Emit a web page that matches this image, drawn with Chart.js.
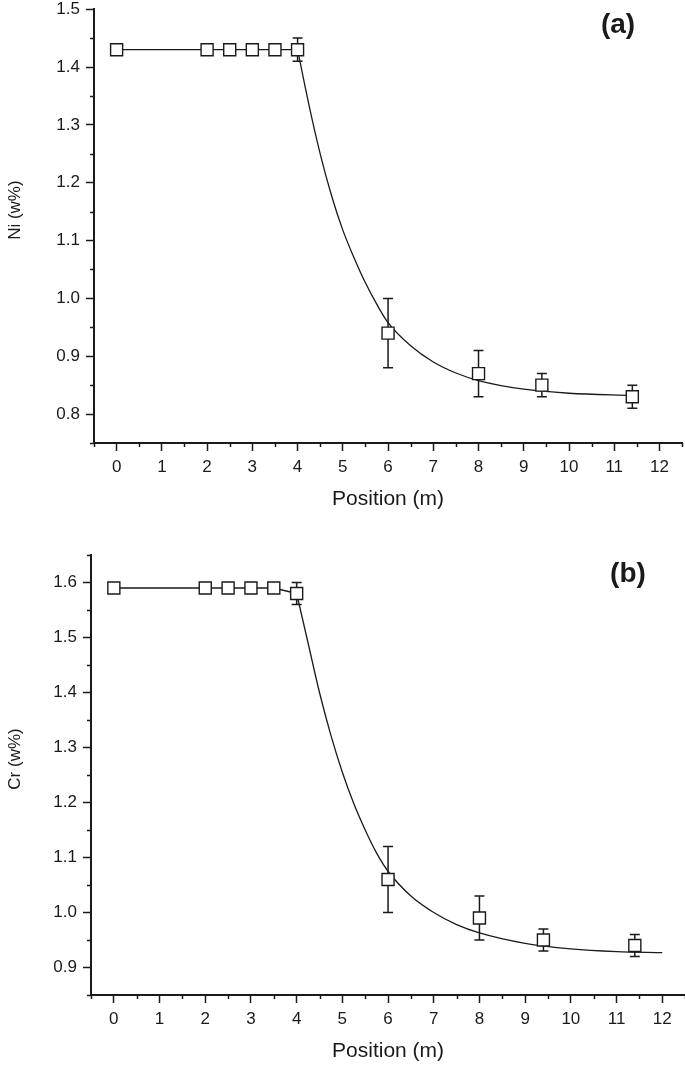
<!DOCTYPE html>
<html>
<head>
<meta charset="utf-8">
<script src="https://cdn.jsdelivr.net/npm/chart.js@4.4.1/dist/chart.umd.min.js"></script>
<style>
    html, body { margin: 0; padding: 0; background: #fff; overflow: hidden; }
    #wrap { position: relative; width: 685px; height: 1065px; overflow: hidden; }
    .panel { position: absolute; left: 0; }
    .panel canvas { display: block; }
    #pa { top: -7px; width: 692px; height: 520px; }
    #pb { top: 535px; width: 695px; height: 530px; }
</style>
</head>
<body>
<div id="wrap">
    <div class="panel" id="pa"><canvas id="chartA"></canvas></div>
    <div class="panel" id="pb"><canvas id="chartB"></canvas></div>
</div>
<script>
// --- Data ---
const positions = [0, 2, 2.5, 3, 3.5, 4, 6, 8, 9.4, 11.4];
const niValues = [1.43, 1.43, 1.43, 1.43, 1.43, 1.43, 0.94, 0.87, 0.85, 0.83];
const niErrors = [0, 0, 0, 0, 0, 0.02, 0.06, 0.04, 0.02, 0.02];
const crValues = [1.59, 1.59, 1.59, 1.59, 1.59, 1.58, 1.06, 0.99, 0.95, 0.94];
const crErrors = [0, 0, 0, 0, 0, 0.02, 0.06, 0.04, 0.02, 0.02];

// fitted decay curves
const niFitX = [4, 4.25, 4.5, 4.75, 5, 5.25, 5.5, 5.75, 6, 6.5, 7, 7.5, 8, 9, 10, 11.4];
const niFitY = [1.43, 1.335, 1.25, 1.178, 1.118, 1.07, 1.027, 0.99, 0.958, 0.918, 0.89, 0.871, 0.858, 0.843, 0.836, 0.832];
const crFitX = [4, 4.25, 4.5, 4.75, 5, 5.25, 5.5, 5.75, 6, 6.5, 7, 7.5, 8, 9, 10, 11, 12];
const crFitY = [1.58, 1.49, 1.40, 1.322, 1.255, 1.198, 1.15, 1.108, 1.075, 1.03, 1.0, 0.978, 0.963, 0.944, 0.934, 0.929, 0.927];

const xTicks = [0, 1, 2, 3, 4, 5, 6, 7, 8, 9, 10, 11, 12];
const niTicks = [0.8, 0.9, 1.0, 1.1, 1.2, 1.3, 1.4, 1.5];
const crTicks = [0.9, 1.0, 1.1, 1.2, 1.3, 1.4, 1.5, 1.6];

const FONT = "'Liberation Sans', Arial, sans-serif";
const INK = '#1a1a1a';

// --- Plugins ---
const errorBars = {
    id: 'errorBars',
    beforeDatasetsDraw(chart, args, opts) {
        const { ctx, scales: { x, y } } = chart;
        ctx.save();
        ctx.strokeStyle = INK;
        ctx.lineWidth = 1.5;
        opts.values.forEach((v, i) => {
            const e = opts.errors[i];
            if (!e) return;
            const px = x.getPixelForValue(positions[i]);
            const top = y.getPixelForValue(v + e);
            const bot = y.getPixelForValue(v - e);
            ctx.beginPath();
            ctx.moveTo(px, top); ctx.lineTo(px, bot);
            ctx.moveTo(px - 5, top); ctx.lineTo(px + 5, top);
            ctx.moveTo(px - 5, bot); ctx.lineTo(px + 5, bot);
            ctx.stroke();
        });
        ctx.restore();
    }
};

const decorations = {
    id: 'decorations',
    afterDraw(chart, args, opts) {
        const { ctx, scales: { x, y }, chartArea } = chart;
        ctx.save();
        ctx.strokeStyle = INK;
        ctx.lineWidth = 1.5;
        ctx.beginPath();
        // minor ticks halfway between the labelled ones
        for (let v = x.min; v <= x.max + 1e-9; v += 1) {
            const px = Math.round(x.getPixelForValue(v)) + 0.5;
            ctx.moveTo(px, chartArea.bottom);
            ctx.lineTo(px, chartArea.bottom + 4);
        }
        for (let v = opts.yFirst; v <= y.max + 1e-9; v += 0.1) {
            const py = Math.round(y.getPixelForValue(v)) + 0.5;
            ctx.moveTo(chartArea.left, py);
            ctx.lineTo(chartArea.left - 4, py);
        }
        ctx.stroke();

        // y title, a little above the axis middle as in the figure
        const midY = (chartArea.top + chartArea.bottom) / 2 - 16;
        ctx.translate(15, midY);
        ctx.rotate(-Math.PI / 2);
        ctx.fillStyle = INK;
        ctx.font = '17px ' + FONT;
        ctx.textAlign = 'center';
        ctx.textBaseline = 'middle';
        ctx.fillText(opts.yTitle, 0, 0);
        ctx.setTransform(1, 0, 0, 1, 0, 0);

        // panel letter
        ctx.font = 'bold 28px ' + FONT;
        ctx.textAlign = 'center';
        ctx.textBaseline = 'middle';
        ctx.fillText(opts.letter, opts.letterX, chartArea.top + opts.letterDy);
        ctx.restore();
    }
};

function makeChart(canvasId, values, errors, fitX, fitY, cfg) {
    const ctx = document.getElementById(canvasId).getContext('2d');
    const flat = positions.map((p, i) => ({ x: p, y: values[i] })).filter(pt => pt.x <= 4);
    return new Chart(ctx, {
        type: 'scatter',
        data: {
            datasets: [
                {
                    data: positions.map((p, i) => ({ x: p, y: values[i] })),
                    pointStyle: 'rect', pointRadius: 8.5, pointHoverRadius: 8.5,
                    pointBackgroundColor: '#fff', pointBorderColor: INK, pointBorderWidth: 1.4,
                    showLine: false, order: 1
                },
                {
                    data: flat, showLine: true, borderColor: INK, borderWidth: 1.3,
                    pointRadius: 0, order: 2
                },
                {
                    data: fitX.map((v, i) => ({ x: v, y: fitY[i] })),
                    showLine: true, borderColor: INK, borderWidth: 1.3,
                    cubicInterpolationMode: 'monotone', pointRadius: 0, order: 3
                }
            ]
        },
        options: {
            responsive: true, maintainAspectRatio: false, animation: false,
            layout: { padding: { top: cfg.padTop, right: 0, left: 0, bottom: 0 } },
            plugins: {
                legend: { display: false }, tooltip: { enabled: false },
                errorBars: { values: values, errors: errors },
                decorations: { yFirst: cfg.yMinorFirst, yTitle: cfg.yTitle, letter: cfg.letter, letterX: cfg.letterX, letterDy: cfg.letterDy }
            },
            scales: {
                x: {
                    type: 'linear', min: -0.5, max: 12.5,
                    afterBuildTicks: s => { s.ticks = xTicks.map(v => ({ value: v })); },
                    afterFit: s => { s.height = 70; },
                    grid: { drawOnChartArea: false, tickLength: 8, tickWidth: 1.5, tickColor: INK },
                    border: { display: true, color: INK, width: 2 },
                    ticks: { color: INK, font: { family: FONT, size: 17 }, padding: 6, maxRotation: 0 },
                    title: { display: true, text: 'Position (m)', color: INK, font: { family: FONT, size: 21 }, padding: { top: 0, bottom: 1 } }
                },
                y: {
                    type: 'linear', min: cfg.yMin, max: cfg.yMax,
                    afterBuildTicks: s => { s.ticks = cfg.yTicks.map(v => ({ value: v })); },
                    afterFit: s => { s.width = cfg.yWidth; },
                    grid: { drawOnChartArea: false, tickLength: 8, tickWidth: 1.5, tickColor: INK },
                    border: { display: true, color: INK, width: 2 },
                    ticks: { color: INK, font: { family: FONT, size: 17 }, padding: 6, callback: v => v.toFixed(1) }
                }
            }
        },
        plugins: [errorBars, decorations]
    });
}

makeChart('chartA', niValues, niErrors, niFitX, niFitY, {
    yMin: 0.75, yMax: 1.5, yTicks: niTicks, yMinorFirst: 0.75, yWidth: 94,
    padTop: 9, yTitle: 'Ni (w%)', letter: '(a)', letterX: 618, letterDy: 16
});
makeChart('chartB', crValues, crErrors, crFitX, crFitY, {
    yMin: 0.85, yMax: 1.65, yTicks: crTicks, yMinorFirst: 0.85, yWidth: 91,
    padTop: 20, yTitle: 'Cr (w%)', letter: '(b)', letterX: 628, letterDy: 19
});
</script>
</body>
</html>
